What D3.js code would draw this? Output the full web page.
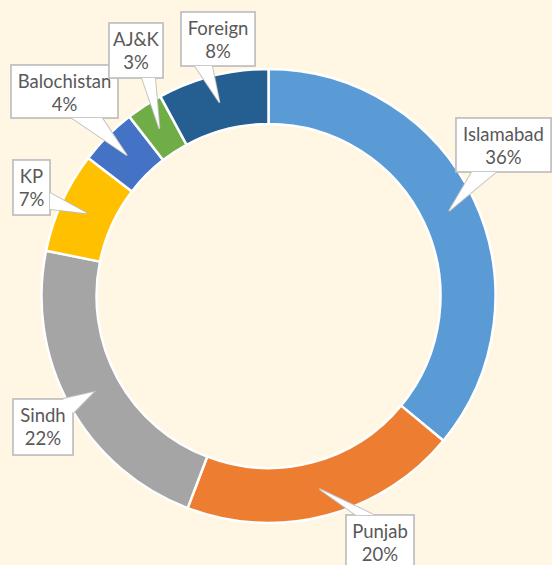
<!DOCTYPE html>
<html>
<head>
<meta charset="utf-8">
<script src="https://cdn.jsdelivr.net/npm/d3@7"></script>
<style>
  html, body { margin: 0; padding: 0; background: #FFF6E3; }
  svg { display: block; }
</style>
</head>
<body>
<svg id="chart" width="552" height="565"></svg>
<script>
// ---- data ----
const categories = ["Islamabad", "Punjab", "Sindh", "KP", "Balochistan", "AJ&K", "Foreign"];
const values = [36.0, 19.8, 22.4, 7.2, 4.1, 2.6, 7.9];
const colors = ["#5B9BD5", "#ED7D31", "#A5A5A5", "#FFC000", "#4472C4", "#70AD47", "#255E91"];

// ---- label callout layout (box left, top, width, height, pointer base points) ----
const labelLayout = [
  { x: 456, y: 118, w: 95, h: 54, base: [[472, 172], [496, 172]] },
  { x: 346, y: 515, w: 68, h: 56, base: [[356, 515], [374, 515]] },
  { x: 13,  y: 399, w: 60, h: 56, base: [[63, 399], [73, 413]] },
  { x: 13,  y: 160, w: 37, h: 55, base: [[50, 193], [50, 209]] },
  { x: 11,  y: 65,  w: 107, h: 53, base: [[72, 118], [102, 118]] },
  { x: 109, y: 23,  w: 54, h: 55, base: [[142, 78], [155, 78]] },
  { x: 181, y: 12,  w: 74, h: 54, base: [[195, 66], [212, 66]] }
];

const svg = d3.select("#chart");
const cx = 268.5, cy = 296;
const outerR = 227, innerR = 172;

const pie = d3.pie().sort(null).value(d => d.value).startAngle(0).endAngle(2 * Math.PI);
const arc = d3.arc().innerRadius(innerR).outerRadius(outerR);

const data = categories.map((c, i) => ({ name: c, value: values[i], color: colors[i] }));
const arcs = pie(data);

const g = svg.append("g").attr("transform", `translate(${cx},${cy})`);
g.selectAll("path.slice")
  .data(arcs)
  .join("path")
  .attr("class", "slice")
  .attr("d", arc)
  .attr("fill", d => d.data.color)
  .attr("stroke", "#FFFFFF")
  .attr("stroke-width", 2.5)
  .attr("stroke-linejoin", "miter");

// ---- callouts ----
const total = d3.sum(values);
const labels = svg.append("g");
const line = d3.line();
arcs.forEach((a, i) => {
  const L = labelLayout[i];
  const c = arc.centroid(a);
  const tip = [c[0] + cx, c[1] + cy];
  const tri = [L.base[0], tip, L.base[1]];
  const grp = labels.append("g");
  // stroked layer
  grp.append("path").attr("d", line(tri) + "Z")
    .attr("fill", "#FFFFFF").attr("stroke", "#BFBFBF").attr("stroke-width", 1.8).attr("stroke-linejoin", "miter");
  grp.append("rect").attr("x", L.x).attr("y", L.y).attr("width", L.w).attr("height", L.h)
    .attr("fill", "#FFFFFF").attr("stroke", "#BFBFBF").attr("stroke-width", 1.8);
  // cover seams
  grp.append("rect").attr("x", L.x + 0.9).attr("y", L.y + 0.9).attr("width", L.w - 1.8).attr("height", L.h - 1.8)
    .attr("fill", "#FFFFFF");
  grp.append("path").attr("d", line(tri) + "Z").attr("fill", "#FFFFFF").attr("stroke", "none");
  const t = grp.append("text")
    .attr("text-anchor", "middle")
    .attr("font-family", "Lato, 'Open Sans', sans-serif")
    .attr("font-size", 18.5)
    .attr("fill", "#595959");
  t.append("tspan").attr("x", L.x + L.w / 2).attr("y", L.y + 23).text(a.data.name);
  t.append("tspan").attr("x", L.x + L.w / 2).attr("y", L.y + 46)
    .text(Math.round(a.data.value / total * 100) + "%");
});
</script>
</body>
</html>
